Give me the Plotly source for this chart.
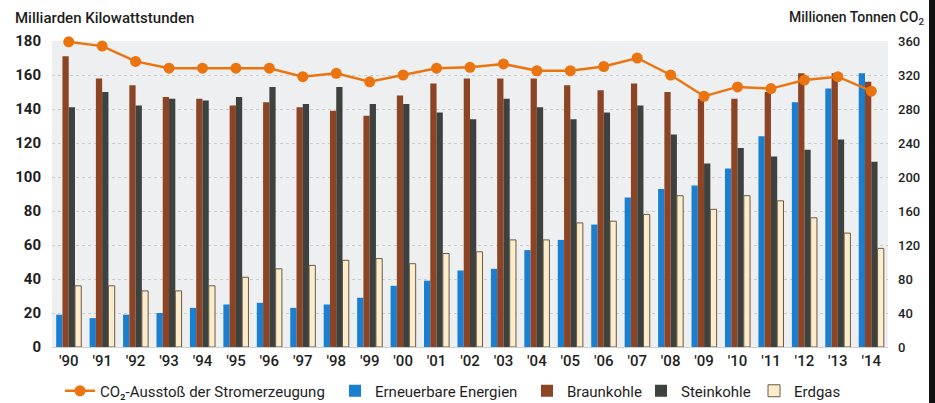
import plotly.graph_objects as go

years = ["'90", "'91", "'92", "'93", "'94", "'95", "'96", "'97", "'98", "'99", "'00", "'01", "'02",
         "'03", "'04", "'05", "'06", "'07", "'08", "'09", "'10", "'11", "'12", "'13", "'14"]
erneuerbare = [19, 17, 19, 20, 23, 25, 26, 23, 25, 29, 36, 39, 45, 46, 57, 63, 72, 88, 93, 95, 105, 124, 144, 152, 161]
braunkohle = [171, 158, 154, 147, 146, 142, 144, 141, 139, 136, 148, 155, 158, 158, 158, 154, 151, 155, 150, 146, 146, 150, 161, 161, 156]
steinkohle = [141, 150, 142, 146, 145, 147, 153, 143, 153, 143, 143, 138, 134, 146, 141, 134, 138, 142, 125, 108, 117, 112, 116, 122, 109]
erdgas = [36, 36, 33, 33, 36, 41, 46, 48, 51, 52, 49, 55, 56, 63, 63, 73, 74, 78, 89, 81, 89, 86, 76, 67, 58]
co2 = [359, 354, 336, 328, 328, 328, 328, 318, 322, 312, 320, 328, 329, 333, 325, 325, 330, 340, 320, 295, 306, 304, 314, 318, 301]

FONT = "Roboto"
TXT = "#1e1e1e"

L, R, T, B = 52, 47, 41, 56
W, H = 935, 403
pw, ph = W - L - R, H - T - B


def px_x(p):
    return (p - L) / pw


LEG_Y = -(391 - (T + ph)) / ph

fig = go.Figure()
fig.add_bar(x=years, y=erneuerbare, name="Erneuerbare Energien", legend="legend2",
            marker=dict(color="#1a7fd0", line=dict(width=0)))
fig.add_bar(x=years, y=braunkohle, name="Braunkohle", legend="legend3",
            marker=dict(color="#8c4424", line=dict(width=0)))
fig.add_bar(x=years, y=steinkohle, name="Steinkohle", legend="legend4",
            marker=dict(color="#3d423e", line=dict(width=0)))
fig.add_bar(x=years, y=erdgas, name="Erdgas", legend="legend5",
            marker=dict(color="#fbeccb", line=dict(color="#6b5a48", width=1)))
fig.add_scatter(x=years, y=co2, yaxis="y2", name="CO₂-Ausstoß der Stromerzeugung", legend="legend",
                mode="lines+markers", cliponaxis=False,
                line=dict(color="#ea7410", width=2.5), marker=dict(color="#ea7410", size=11))

leg_common = dict(orientation="h", xanchor="left", y=LEG_Y, yanchor="middle",
                  font=dict(family=FONT, size=15, color=TXT), bgcolor="rgba(0,0,0,0)")

fig.update_layout(
    width=W, height=H,
    margin=dict(l=L, r=R, t=T, b=B, autoexpand=False),
    paper_bgcolor="white", plot_bgcolor="#eeeff0",
    barmode="group", bargap=0.25, bargroupgap=0,
    font=dict(family=FONT, size=14, color=TXT),
    showlegend=True,
    legend=dict(x=px_x(60), **leg_common),
    legend2=dict(x=px_x(335), **leg_common),
    legend3=dict(x=px_x(527), **leg_common),
    legend4=dict(x=px_x(641), **leg_common),
    legend5=dict(x=px_x(754), **leg_common),
    xaxis=dict(range=[-0.5, len(years) - 0.5], showgrid=False, tickfont=dict(size=15, color=TXT, weight=500),
               ticks="", showline=True, linecolor="#cfcfcf", linewidth=1, automargin=False),
    yaxis=dict(range=[0, 180], dtick=20, showgrid=True, gridcolor="#cbcbcb", griddash="dot", gridwidth=1,
               zeroline=False, tickfont=dict(size=15, color=TXT, weight="bold"), ticklabelstandoff=10,
               automargin=False),
    yaxis2=dict(range=[0, 360], dtick=40, overlaying="y", side="right", showgrid=False, zeroline=False,
                tickfont=dict(size=13, color=TXT, weight=500), ticklabelstandoff=9, automargin=False),
    annotations=[
        dict(text="Milliarden Kilowattstunden", xref="paper", yref="paper", x=px_x(13), y=1 + (T - 18) / ph,
             xanchor="left", yanchor="middle", showarrow=False, font=dict(size=15, color=TXT, weight=500)),
        dict(text="Millionen Tonnen CO<sub>2</sub>", xref="paper", yref="paper", x=px_x(926), y=1 + (T - 18) / ph,
             xanchor="right", yanchor="middle", showarrow=False, font=dict(size=14, color=TXT, weight=500)),
    ],
    shapes=[dict(type="rect", xref="paper", yref="paper", x0=px_x(929), x1=px_x(936),
                 y0=-B / ph - 0.01, y1=1 + T / ph + 0.01, fillcolor="#111111", line=dict(width=0), layer="above")],
)

fig.write_html("out.html")
